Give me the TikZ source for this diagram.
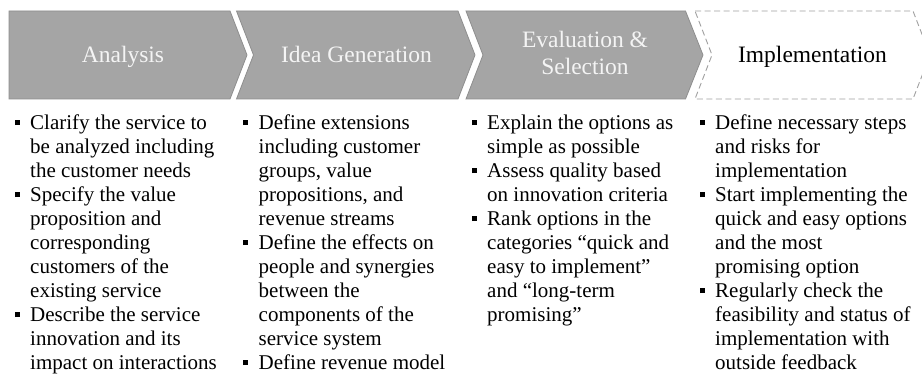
\documentclass[tikz,border=0pt]{standalone}
\usepackage{fontspec}
\setmainfont{Liberation Serif}
\definecolor{chevfill}{HTML}{A5A5A5}
\definecolor{chevline}{HTML}{8E8E8E}
\definecolor{dashline}{HTML}{A0A0A0}
\definecolor{headwhite}{HTML}{F4F4F4}
\newcommand{\bul}{\llap{\raisebox{4.3pt}{\rule{5pt}{5pt}}\hspace{10.3pt}}}
\tikzset{
  chev/.style={fill=chevfill, draw=chevline, line width=0.8pt},
  chevopen/.style={draw=dashline, line width=0.9pt, dash pattern=on 6pt off 3.5pt},
  headtxt/.style={text=headwhite, font=\fontsize{23.5}{27}\selectfont, align=center, inner sep=0pt},
  headblack/.style={headtxt, text=black},
  coltxt/.style={anchor=base west, inner sep=0pt, font=\fontsize{21}{24}\selectfont}
}
\begin{document}
\begin{tikzpicture}[x=1pt, y=-1pt]
\clip (0,0) rectangle (922,379);
\fill[white] (0,0) rectangle (922,379);
% chevrons
\draw[chev] (9,11) -- (230,11) -- (247,55) -- (230,99) -- (9,99) -- cycle;
\draw[chev] (236.5,11) -- (458,11) -- (475,55) -- (458,99) -- (236.5,99) -- (253.5,55) -- cycle;
\draw[chev] (466,11) -- (685.5,11) -- (703,55) -- (685.5,99) -- (466,99) -- (483,55) -- cycle;
\draw[chevopen] (695,11) -- (913,11) -- (930,55) -- (913,99) -- (695,99) -- (712,55) -- cycle;
% headers
\node[headtxt, anchor=base] (h1) at (123,63) {Analysis};
\node[headtxt, anchor=base] (h2) at (356.5,63) {Idea Generation};
\node[headtxt, anchor=base] (h3) at (585,48) {\begin{tabular}[t]{@{}c@{}}Evaluation \&\\Selection\end{tabular}};
\node[headblack, anchor=base] (h4) at (812.5,63) {Implementation};
% columns
\node[coltxt] (c1) at (30,129.5) {\begin{tabular}[t]{@{}l@{}}
\bul Clarify the service to\\
be analyzed including\\
the customer needs\\
\bul Specify the value\\
proposition and\\
corresponding\\
customers of the\\
existing service\\
\bul Describe the service\\
innovation and its\\
impact on interactions
\end{tabular}};
\node[coltxt] (c2) at (258.5,129.5) {\begin{tabular}[t]{@{}l@{}}
\bul Define extensions\\
including customer\\
groups, value\\
propositions, and\\
revenue streams\\
\bul Define the effects on\\
people and synergies\\
between the\\
components of the\\
service system\\
\bul Define revenue model
\end{tabular}};
\node[coltxt] (c3) at (487,129.5) {\begin{tabular}[t]{@{}l@{}}
\bul Explain the options as\\
simple as possible\\
\bul Assess quality based\\
on innovation criteria\\
\bul Rank options in the\\
categories “quick and\\
easy to implement”\\
and “long-term\\
promising”
\end{tabular}};
\node[coltxt] (c4) at (715,129.5) {\begin{tabular}[t]{@{}l@{}}
\bul Define necessary steps\\
and risks for\\
implementation\\
\bul Start implementing the\\
quick and easy options\\
and the most\\
promising option\\
\bul Regularly check the\\
feasibility and status of\\
implementation with\\
outside feedback
\end{tabular}};
\end{tikzpicture}
\end{document}
